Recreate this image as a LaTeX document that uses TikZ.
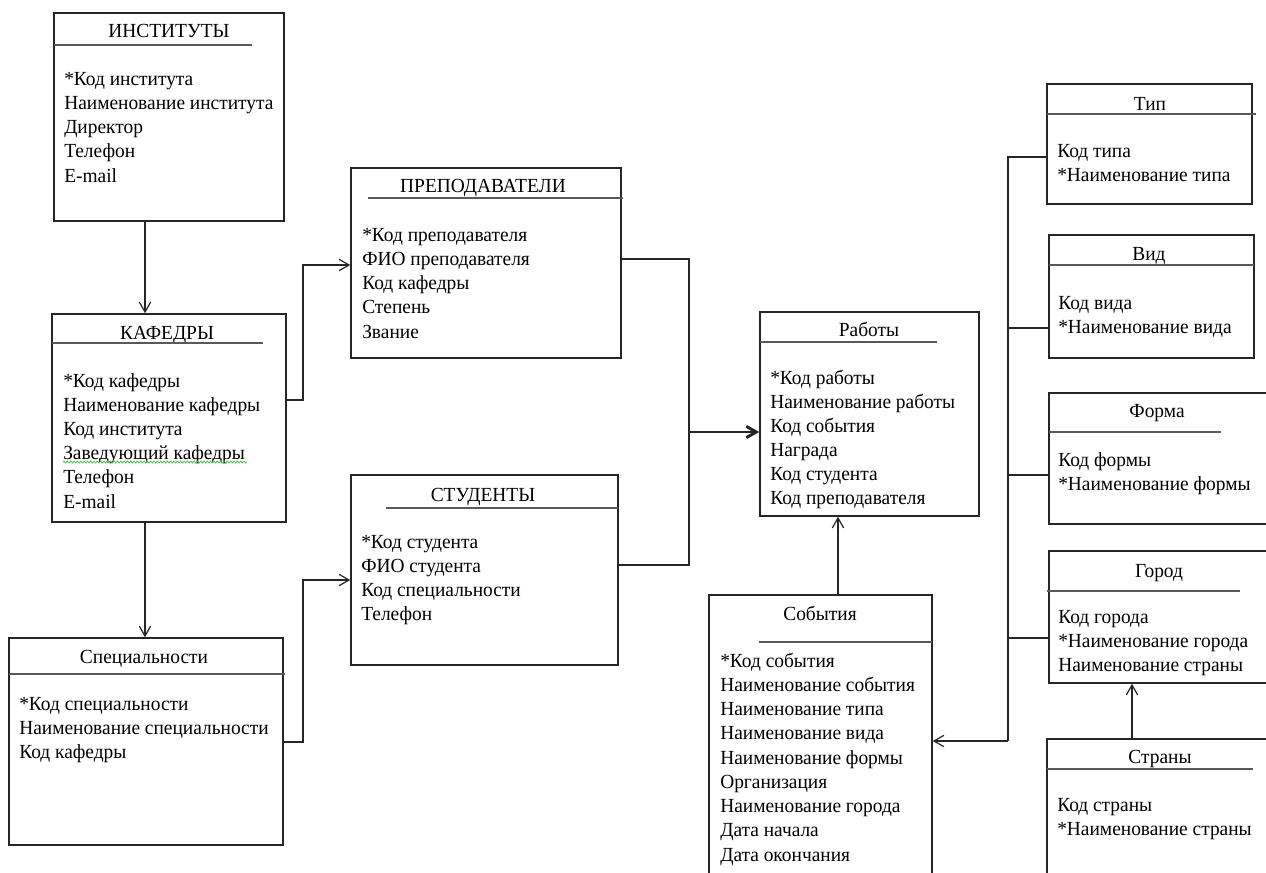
\documentclass[tikz,border=0pt]{standalone}
\usepackage{fontspec}
\setmainfont{Liberation Serif}[FakeStretch=0.97]
\usetikzlibrary{arrows.meta,fit,decorations.pathmorphing}
\begin{document}
\begin{tikzpicture}[x=0.75pt,y=-0.75pt,
  box/.style={draw=black!85,line width=1.1pt,inner sep=0pt},
  ttl/.style={anchor=base,inner sep=0pt,font=\fontsize{15}{18}\selectfont},
  attr/.style={anchor=base west,inner sep=0pt,font=\fontsize{15}{18}\selectfont},
  uline/.style={draw=black!65,line width=1.3pt},
  conn/.style={draw=black!85,line width=0.9pt},
  arr/.style={conn,-{Straight Barb[length=7.5pt,width=8.5pt]}}]
\useasboundingbox (0,0) rectangle (1266,872);
\clip (0,0) rectangle (1266,872);
\fill[white] (0,0) rectangle (1266,872);

% ИНСТИТУТЫ
\node[box,fit={(54,13) (284,221)}] (inst) {};
\node[ttl] (inst-t) at (169,37) {ИНСТИТУТЫ};
\draw[uline] (54,45) -- (252,45);
\foreach \t [count=\i] in {*Код института,Наименование института,Директор,Телефон,E-mail}
  \node[attr] (inst-\i) at (64,{85+24.25*(\i-1)}) {\t};

% КАФЕДРЫ
\node[box,fit={(52,314) (286,522)}] (kaf) {};
\node[ttl] (kaf-t) at (167,339) {КАФЕДРЫ};
\draw[uline] (52,343) -- (263,343);
\foreach \t [count=\i] in {*Код кафедры,Наименование кафедры,Код института,Заведующий кафедры,Телефон,E-mail}
  \node[attr] (kaf-\i) at (63,{387+24.2*(\i-1)}) {\t};
\draw[green!65!black!70,line width=0.6pt,decorate,decoration={snake,amplitude=0.7pt,segment length=2.5pt}] (63,462) -- (247,462);

% Специальности
\node[box,fit={(9,638) (283,845)}] (spec) {};
\node[ttl] (spec-t) at (144,663) {Специальности};
\draw[uline] (9,674) -- (285,674);
\foreach \t [count=\i] in {*Код специальности,Наименование специальности,Код кафедры}
  \node[attr] (spec-\i) at (19,{710+24*(\i-1)}) {\t};

% ПРЕПОДАВАТЕЛИ
\node[box,fit={(351,168) (621,358)}] (prep) {};
\node[ttl] (prep-t) at (483,192) {ПРЕПОДАВАТЕЛИ};
\draw[uline] (368,198) -- (623,198);
\foreach \t [count=\i] in {*Код преподавателя,ФИО преподавателя,Код кафедры,Степень,Звание}
  \node[attr] (prep-\i) at (362,{241+24.25*(\i-1)}) {\t};

% СТУДЕНТЫ
\node[box,fit={(351,475) (618,665)}] (stud) {};
\node[ttl] (stud-t) at (483,501) {СТУДЕНТЫ};
\draw[uline] (386,508) -- (618,508);
\foreach \t [count=\i] in {*Код студента,ФИО студента,Код специальности,Телефон}
  \node[attr] (stud-\i) at (361,{548+24*(\i-1)}) {\t};

% Работы
\node[box,fit={(760,312) (979,516)}] (rab) {};
\node[ttl] (rab-t) at (869,336) {Работы};
\draw[uline] (760,342) -- (937,342);
\foreach \t [count=\i] in {*Код работы,Наименование работы,Код события,Награда,Код студента,Код преподавателя}
  \node[attr] (rab-\i) at (770,{384+24*(\i-1)}) {\t};

% События
\node[box,fit={(709,595) (932,880)}] (sob) {};
\node[ttl] (sob-t) at (820,620) {События};
\draw[uline] (759,642) -- (932,642);
\foreach \t [count=\i] in {*Код события,Наименование события,Наименование типа,Наименование вида,Наименование формы,Организация,Наименование города,Дата начала,Дата окончания}
  \node[attr] (sob-\i) at (720,{667+24.25*(\i-1)}) {\t};

% Тип
\node[box,fit={(1047,84) (1252,204)}] (tip) {};
\node[ttl] (tip-t) at (1150,110) {Тип};
\draw[uline] (1047,114) -- (1256,114);
\node[attr] (tip-1) at (1057,157) {Код типа};
\node[attr] (tip-2) at (1057,181) {*Наименование типа};

% Вид
\node[box,fit={(1049,235) (1254,358)}] (vid) {};
\node[ttl] (vid-t) at (1149,260) {Вид};
\draw[uline] (1049,265) -- (1254,265);
\node[attr] (vid-1) at (1058,309) {Код вида};
\node[attr] (vid-2) at (1058,333) {*Наименование вида};

% Форма
\node[box,fit={(1049,393) (1272,524)}] (forma) {};
\node[ttl] (forma-t) at (1157,417) {Форма};
\draw[uline] (1049,432) -- (1221,432);
\node[attr] (forma-1) at (1058,466) {Код формы};
\node[attr] (forma-2) at (1058,490) {*Наименование формы};

% Город
\node[box,fit={(1049,551) (1272,683)}] (gorod) {};
\node[ttl] (gorod-t) at (1159,577) {Город};
\draw[uline] (1047,591) -- (1240,591);
\node[attr] (gorod-1) at (1058,623) {Код города};
\node[attr] (gorod-2) at (1058,647) {*Наименование города};
\node[attr] (gorod-3) at (1058,671) {Наименование страны};

% Страны
\node[box,fit={(1047,739) (1272,880)}] (strany) {};
\node[ttl] (strany-t) at (1160,763) {Страны};
\draw[uline] (1047,769) -- (1253,769);
\node[attr] (strany-1) at (1057,811) {Код страны};
\node[attr] (strany-2) at (1057,835) {*Наименование страны};

% connectors
\coordinate (xa) at (145,0);
\draw[arr] (inst.south -| xa) -- (kaf.north -| xa);
\draw[arr] (kaf.south -| xa) -- (spec.north -| xa);
\coordinate (k1) at (303,400);
\coordinate (p1) at (303,265);
\draw[arr] (kaf.east |- k1) -- (k1) -- (p1) -- (prep.west |- p1);
\coordinate (s1) at (303,742);
\coordinate (s2) at (303,580);
\draw[arr] (spec.east |- s1) -- (s1) -- (s2) -- (stud.west |- s2);
\coordinate (j1) at (689,259);
\coordinate (j2) at (689,432);
\coordinate (j3) at (689,565);
\draw[conn] (prep.east |- j1) -- (j1) -- (j3) -- (stud.east |- j3);
\draw[arr,line width=2.2pt] (j2) -- (rab.west |- j2);
\coordinate (e1) at (838,0);
\draw[arr] (sob.north -| e1) -- (rab.south -| e1);
\coordinate (b0) at (1008,157);
\coordinate (b1) at (1008,741);
\draw[conn] (tip.west |- b0) -- (b0) -- (b1);
\draw[arr] (b1) -- (sob.east |- b1);
\coordinate (bv) at (1008,328);
\draw[conn] (bv) -- (vid.west |- bv);
\coordinate (bf) at (1008,475);
\draw[conn] (bf) -- (forma.west |- bf);
\coordinate (bg) at (1008,638);
\draw[conn] (bg) -- (gorod.west |- bg);
\coordinate (g1) at (1132,0);
\draw[arr] (strany.north -| g1) -- (gorod.south -| g1);
\end{tikzpicture}
\end{document}
